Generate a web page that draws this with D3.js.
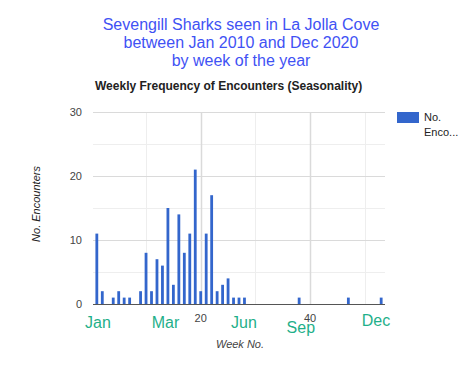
<!DOCTYPE html>
<html><head><meta charset="utf-8">
<script src="https://cdn.jsdelivr.net/npm/d3@7"></script>
<style>
html,body{margin:0;padding:0;background:#fff;}
svg{display:block;font-family:Arial,"Liberation Sans",sans-serif;}
</style></head>
<body><svg id="c" width="468" height="378"></svg>
<script>
const weeks  = [1,2,4,5,6,7,9,10,11,12,13,14,15,16,17,18,19,20,21,22,23,24,25,26,27,28,38,47,53];
const counts = [11,2,1,2,1,1,2,8,2,7,6,15,3,14,8,11,21,2,11,17,2,3,4,1,1,1,1,1,1];
const yTicks = [0,10,20,30];
const yMinor = [5,15,25];
const xGrid = [10,20,30,40,50];
const xLabels = [20,40];
const months = [
  {name:"Jan", week:-1.15, dy:0},
  {name:"Mar", week:11.05, dy:0},
  {name:"Jun", week:25.55, dy:0},
  {name:"Sep", week:35.7, dy:4.5},
  {name:"Dec", week:49.45, dy:-2}
];
const titleLines = ["Sevengill Sharks seen in La Jolla Cove","between Jan 2010 and Dec 2020","by week of the year"];

const svg = d3.select("#c");
const x = d3.scaleLinear().domain([0.3,53.7]).range([93,385]);
const y = d3.scaleLinear().domain([0,30]).range([304,112]);

// title
svg.append("g").selectAll("text").data(titleLines).join("text")
  .attr("x",241).attr("y",(d,i)=>30+i*17.8)
  .attr("text-anchor","middle").attr("font-size",16).attr("fill","#3f52f4")
  .text(d=>d);

svg.append("text").attr("x",95).attr("y",90).attr("font-size",12).attr("font-weight","bold")
  .attr("fill","#222").text("Weekly Frequency of Encounters (Seasonality)");

// gridlines
svg.append("g").selectAll("line").data(yMinor).join("line")
  .attr("x1",93).attr("x2",385).attr("y1",d=>y(d)+0.5).attr("y2",d=>y(d)+0.5)
  .attr("stroke","#eeeeee");
svg.append("g").selectAll("line").data(xGrid).join("line")
  .attr("y1",112).attr("y2",304).attr("x1",d=>Math.round(x(d))+0.5).attr("x2",d=>Math.round(x(d))+0.5)
  .attr("stroke",d=>xLabels.includes(d)?"#dadada":"#eeeeee").attr("stroke-width",d=>xLabels.includes(d)?1.5:1);
svg.append("g").selectAll("line").data(yTicks.filter(d=>d>0)).join("line")
  .attr("x1",93).attr("x2",385).attr("y1",d=>y(d)+0.5).attr("y2",d=>y(d)+0.5)
  .attr("stroke","#dadada");

// y axis labels
svg.append("g").selectAll("text").data(yTicks).join("text")
  .attr("x",82).attr("y",d=>y(d)+4).attr("text-anchor","end")
  .attr("font-size",11).attr("fill","#444").text(d=>d);

// bars
const bw = 2.8;
svg.append("g").selectAll("rect").data(weeks.map((w,i)=>({w,c:counts[i]}))).join("rect")
  .attr("x",d=>x(d.w)-bw/2).attr("width",bw)
  .attr("y",d=>y(d.c)).attr("height",d=>y(0)-y(d.c))
  .attr("fill","#3366cc");

// baseline
svg.append("line").attr("x1",93).attr("x2",385).attr("y1",304.5).attr("y2",304.5)
  .attr("stroke","#555").attr("stroke-width",1);

// x labels
svg.append("g").selectAll("text").data(xLabels).join("text")
  .attr("x",d=>x(d)).attr("y",322).attr("text-anchor","middle")
  .attr("font-size",11).attr("fill","#444").text(d=>d);

// month labels
svg.append("g").selectAll("text").data(months).join("text")
  .attr("x",d=>x(d.week)).attr("y",d=>328+d.dy)
  .attr("font-size",16).attr("fill","#1fb08a").text(d=>d.name);

// axis titles
svg.append("text").attr("x",240).attr("y",348).attr("text-anchor","middle")
  .attr("font-size",11).attr("font-style","italic").attr("fill","#444").text("Week No.");
svg.append("text").attr("transform","translate(40,204) rotate(-90)").attr("text-anchor","middle")
  .attr("font-size",11).attr("font-style","italic").attr("fill","#222").text("No. Encounters");

// legend
svg.append("rect").attr("x",397).attr("y",112).attr("width",22).attr("height",11).attr("fill","#3366cc");
svg.append("text").attr("x",424).attr("y",121).attr("font-size",11).attr("fill","#222").text("No.");
svg.append("text").attr("x",424).attr("y",136).attr("font-size",11).attr("fill","#222").text("Enco...");
</script>
</body></html>
